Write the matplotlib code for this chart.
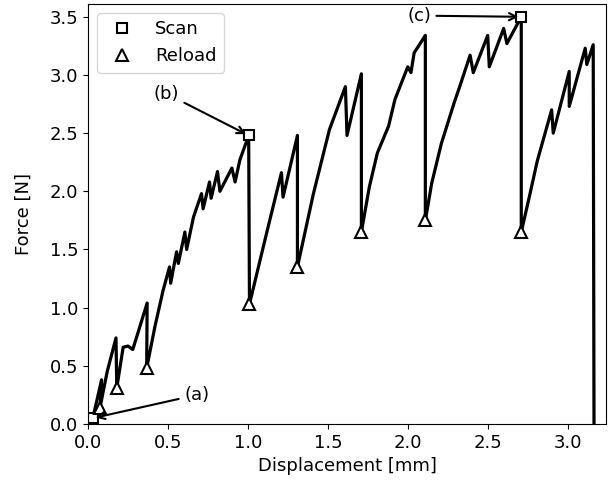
import matplotlib
matplotlib.use('Agg')
import matplotlib.pyplot as plt

# force-displacement curve
disp = [0.0, 0.03, 0.085, 0.075, 0.12, 0.175, 0.18, 0.22, 0.25, 0.28, 0.37,
        0.367, 0.419, 0.47, 0.51, 0.517, 0.554, 0.565, 0.606, 0.617, 0.66, 0.71, 0.72,
        0.76, 0.77, 0.81, 0.825, 0.90, 0.92, 0.95, 1.005,
        1.01, 1.117, 1.21, 1.22, 1.31,
        1.31, 1.41, 1.51, 1.61, 1.62, 1.71,
        1.71, 1.76, 1.81, 1.88, 1.92, 2.00, 2.02, 2.04, 2.11,
        2.11, 2.15, 2.21, 2.29, 2.325, 2.39, 2.41, 2.50, 2.51, 2.60, 2.62, 2.71,
        2.71, 2.76, 2.81, 2.90, 2.91, 3.01, 3.01, 3.11, 3.12, 3.16, 3.165]
force = [0.0, 0.05, 0.38, 0.14, 0.45, 0.74, 0.31, 0.66, 0.67, 0.64, 1.04,
         0.48, 0.84, 1.15, 1.35, 1.21, 1.48, 1.38, 1.65, 1.50, 1.78, 1.98, 1.85,
         2.08, 1.94, 2.17, 2.00, 2.20, 2.08, 2.27, 2.48,
         1.03, 1.64, 2.16, 1.95, 2.48,
         1.35, 1.98, 2.53, 2.90, 2.48, 3.01,
         1.65, 2.04, 2.33, 2.56, 2.79, 3.07, 3.02, 3.19, 3.34,
         1.75, 2.07, 2.41, 2.76, 2.90, 3.17, 3.02, 3.34, 3.07, 3.40, 3.27, 3.50,
         1.65, 1.95, 2.26, 2.70, 2.50, 3.03, 2.73, 3.23, 3.09, 3.26, 0.0]

scan_x = [0.03, 1.005, 2.71]
scan_y = [0.05, 2.48, 3.50]
reload_x = [0.075, 0.18, 0.367, 1.01, 1.31, 1.71, 2.11, 2.71]
reload_y = [0.14, 0.31, 0.48, 1.03, 1.35, 1.65, 1.75, 1.65]

labels = ['(a)', '(b)', '(c)']
label_pos = [(0.68, 0.25), (0.49, 2.84), (2.07, 3.51)]

plt.rcParams['font.size'] = 13
fig = plt.figure(figsize=(6.08, 4.93), dpi=100)
ax = fig.add_axes([88/608, 1-424/493, (606-88)/608, (424-4)/493])

ax.plot(disp, force, 'k-', lw=2.3)
ax.plot(scan_x, scan_y, 's', color='k', mfc='white', mew=1.5, ms=7, ls='none', label='Scan')
ax.plot(reload_x, reload_y, '^', color='k', mfc='white', mew=1.5, ms=8, ls='none', label='Reload')

for lab, xy, txt in zip(labels, zip(scan_x, scan_y), label_pos):
    ax.annotate(lab, xy=xy, xytext=txt, ha='center', va='center',
                arrowprops=dict(arrowstyle='->', color='k', lw=1.5))

ax.set_xlim(0, 3.24)
ax.set_ylim(0, 3.61)
ax.set_xlabel('Displacement [mm]')
ax.set_ylabel('Force [N]', labelpad=12)
ax.legend(loc='upper left')
fig.savefig('out.png', dpi=100)
